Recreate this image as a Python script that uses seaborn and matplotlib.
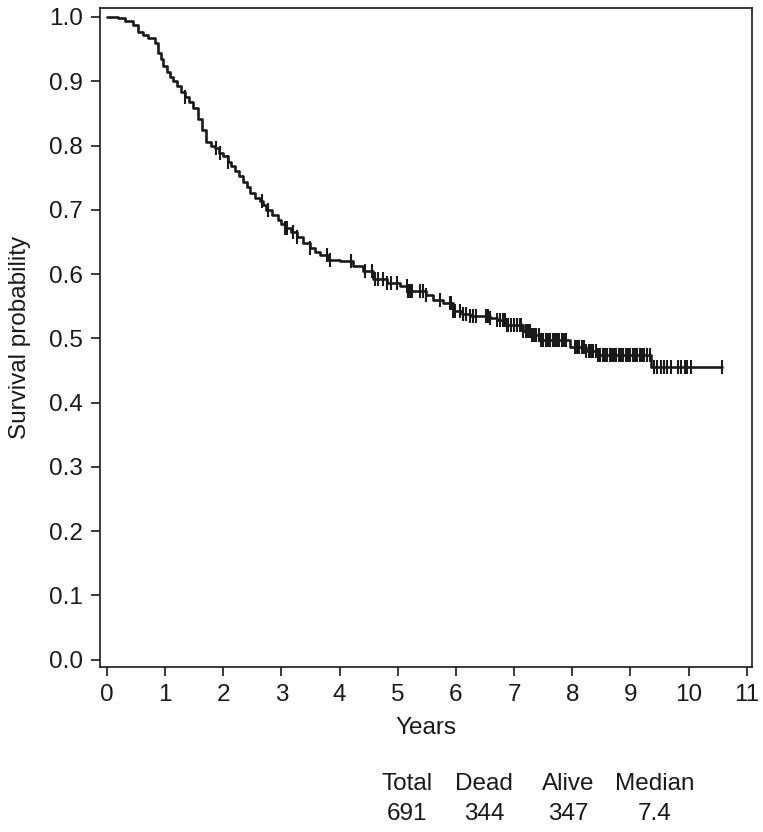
import numpy as np
import pandas as pd
import matplotlib
matplotlib.use("Agg")
import matplotlib.pyplot as plt
import seaborn as sns

# ---- data ----
event_times = [0.0, 0.19, 0.31, 0.45, 0.54, 0.62, 0.71, 0.82, 0.88, 0.93,
               0.97, 1.03, 1.08, 1.14, 1.20, 1.27, 1.34, 1.41, 1.48, 1.57,
               1.63, 1.71, 1.79, 1.86, 1.93, 2.00, 2.08, 2.14, 2.20, 2.27,
               2.34, 2.40, 2.46, 2.55, 2.63, 2.68, 2.74, 2.84, 2.94, 3.00,
               3.06, 3.16, 3.26, 3.37, 3.49, 3.57, 3.66, 3.80, 4.00, 4.23,
               4.41, 4.58, 4.81, 5.03, 5.18, 5.49, 5.61, 5.78, 5.95, 6.10,
               6.24, 6.58, 6.70, 6.87, 7.15, 7.30, 7.44, 7.96, 8.24, 8.41,
               9.36, 10.58]
survival = [1.000, 0.998, 0.993, 0.988, 0.977, 0.972, 0.967, 0.959, 0.944, 0.934,
            0.923, 0.915, 0.907, 0.900, 0.892, 0.884, 0.876, 0.867, 0.858, 0.842,
            0.824, 0.806, 0.800, 0.796, 0.789, 0.783, 0.775, 0.768, 0.760, 0.752,
            0.744, 0.735, 0.726, 0.719, 0.713, 0.707, 0.700, 0.692, 0.684, 0.678,
            0.671, 0.665, 0.658, 0.648, 0.640, 0.635, 0.630, 0.622, 0.620, 0.612,
            0.604, 0.593, 0.586, 0.581, 0.573, 0.568, 0.560, 0.555, 0.542, 0.538,
            0.534, 0.531, 0.529, 0.521, 0.511, 0.505, 0.498, 0.487, 0.480, 0.474,
            0.455, 0.455]

censor_times = [1.35, 1.88, 1.94, 2.08, 2.67, 2.77, 3.06, 3.09, 3.20, 3.26,
                3.49, 3.78, 3.83, 4.20, 4.43, 4.55, 4.60, 4.66, 4.75, 4.81,
                4.89, 4.98, 5.15, 5.18, 5.21, 5.24, 5.38, 5.43, 5.49, 5.72,
                5.89, 5.92, 5.95, 5.98, 6.07, 6.12, 6.18, 6.24, 6.30, 6.35,
                6.52, 6.55, 6.58, 6.70, 6.75, 6.81, 6.84, 6.87, 6.90, 6.95,
                7.00, 7.05, 7.10, 7.12, 7.16, 7.20, 7.24, 7.27, 7.30, 7.34,
                7.38, 7.42, 7.46, 7.50, 7.54, 7.58, 7.62, 7.66, 7.70, 7.74,
                7.78, 7.82, 7.86, 7.90, 8.04, 8.08, 8.12, 8.16, 8.20, 8.24,
                8.28, 8.32, 8.36, 8.40, 8.44, 8.48, 8.52, 8.56, 8.60, 8.64,
                8.68, 8.72, 8.76, 8.80, 8.84, 8.88, 8.92, 8.96, 9.00, 9.04,
                9.08, 9.12, 9.16, 9.20, 9.24, 9.28, 9.33, 9.40, 9.46, 9.52,
                9.57, 9.63, 9.70, 9.82, 9.87, 9.93, 9.98, 10.04, 10.58]

x_ticks = list(range(0, 12))
y_ticks = [0.0, 0.1, 0.2, 0.3, 0.4, 0.5, 0.6, 0.7, 0.8, 0.9, 1.0]
summary_headers = ["Total", "Dead", "Alive", "Median"]
summary_values = ["691", "344", "347", "7.4"]

assert len(event_times) == len(survival)

# ---- style ----
sns.set_style("ticks")
plt.rcParams["font.family"] = ["Liberation Sans", "DejaVu Sans"]
plt.rcParams["font.size"] = 17.5
ink = "#1a1a1a"

fig = plt.figure(figsize=(7.63, 8.32), dpi=100)
ax = fig.add_axes([100 / 763, 1 - 667 / 832, 652 / 763, 659 / 832])

df = pd.DataFrame({"Years": event_times, "Survival": survival})
sns.lineplot(data=df, x="Years", y="Survival", drawstyle="steps-post",
             estimator=None, color=ink, linewidth=1.9, ax=ax)

# censor marks on the step curve
ev = np.asarray(event_times)
sv = np.asarray(survival)
ct = np.asarray(censor_times)
idx = np.searchsorted(ev, ct, side="right") - 1
ax.plot(ct, sv[idx], linestyle="none", marker="|", markersize=9.5,
        markeredgewidth=1.5, color=ink)

ax.set_xlim(-0.12, 11.09)
ax.set_ylim(-0.0115, 1.014)
ax.set_xticks(x_ticks)
ax.set_xticklabels([str(t) for t in x_ticks])
ax.set_yticks(y_ticks)
ax.set_yticklabels([f"{v:.1f}" for v in y_ticks])
ax.tick_params(axis="both", direction="out", length=6.5, width=1.2,
               color=ink, labelcolor=ink, labelsize=17.5, pad=6)
for s in ax.spines.values():
    s.set_visible(True)
    s.set_linewidth(1.2)
    s.set_color(ink)

ax.set_xlabel("Years", fontsize=17.5, color=ink, labelpad=8)
ax.set_ylabel("Survival probability", fontsize=17.5, color=ink, labelpad=13)

xs = [407, 484, 568, 655]
for x, h, v in zip(xs, summary_headers, summary_values):
    fig.text(x / 763, 1 - 784 / 832, h, ha="center", va="center",
             fontsize=17.5, color=ink)
    fig.text(x / 763, 1 - 814 / 832, v, ha="center", va="center",
             fontsize=17.5, color=ink)

fig.savefig("out.png", dpi=100)
